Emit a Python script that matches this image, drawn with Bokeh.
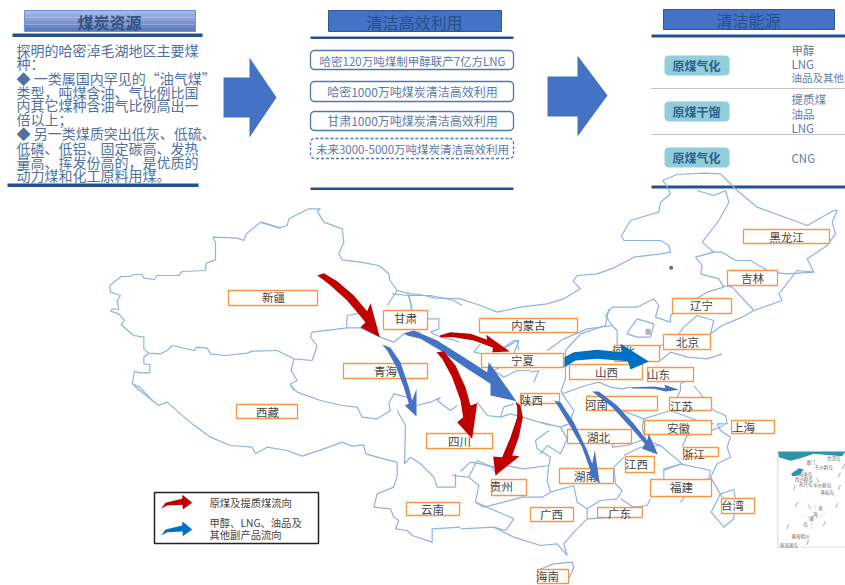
from bokeh.plotting import figure
from bokeh.embed import file_html
from bokeh.resources import INLINE
from bokeh.core.properties import value
import math

FONT = value("Noto Sans CJK SC")

province_labels = ["新疆","甘肃","青海","内蒙古","宁夏","辽宁","北京","吉林","黑龙江","河北","山西","山东","河南","江苏","安徽","上海","湖北","浙江","江西","湖南","福建","广东","广西","贵州","四川","陕西","云南","西藏","海南","台湾"]
province_boxes = [(228,290,317,305),(383,310,427,329),(343,363,427,378),(479,318,577,332),(481,353,563,367),(672,298,731,313),(663,334,710,349),(727,270,777,285),(743,229,829,243),(614,345,659,361),(569,364,642,379),(647,367,693,381),(586,396,657,410),(669,397,711,410),(644,420,711,434),(731,420,774,433),(567,429,631,443),(683,447,718,456),(625,456,654,472),(559,468,613,483),(650,479,711,496),(597,507,642,517),(530,507,573,521),(491,479,526,495),(426,433,492,448),(520,393,559,403),(406,502,459,515),(236,404,297,418),(537,569,568,583),(721,498,754,513)]
province_text = [(273,296),(405,317),(385,370),(528,324),(522,359),(701,304),(687,341),(752,277),(786,236),(623,350),(606,371),(658,373),(596,403),(681,405),(678,427),(743,426),(598,436),(693,453),(636,463),(585,475),(681,486),(619,512),(551,513),(501,485),(459,440),(531,399),(432,508),(267,411),(547,575),(732,504)]

resource_title = "煤炭资源"
resource_lines = ["探明的哈密淖毛湖地区主要煤","种：","◆ 一类属国内罕见的“油气煤”","类型，吨煤含油、气比例比国","内其它煤种含油气比例高出一","倍以上；","◆ 另一类煤质突出低灰、低硫、","低磷、低铝、固定碳高、发热","量高、挥发份高的，是优质的","动力煤和化工原料用煤。"]
use_title = "清洁高效利用"
use_items = ["哈密120万吨煤制甲醇联产7亿方LNG","哈密1000万吨煤炭清洁高效利用","甘肃1000万吨煤炭清洁高效利用","未来3000-5000万吨煤炭清洁高效利用"]
energy_title = "清洁能源"
energy_pills = ["原煤气化","原煤干馏","原煤气化"]
energy_products = ["甲醇","LNG","油品及其他","提质煤","油品","LNG","CNG"]
legend_labels = ["原煤及提质煤流向","甲醇、LNG、油品及","其他副产品流向"]

p = figure(width=845, height=585, x_range=(0,845), y_range=(585,0),
           output_backend="svg", toolbar_location=None, min_border=0)
p.axis.visible = False
p.grid.visible = False
p.outline_line_color = None
p.background_fill_color = "white"

def Z(x0, y0, pts):
    return [x0 + a/3 for a, _ in pts], [y0 + b/3 for _, b in pts]

def rrect(l, t, r, b, rad):
    xs, ys = [], []
    for cx, cy, a0 in [(r-rad,t+rad,-90),(r-rad,b-rad,0),(l+rad,b-rad,90),(l+rad,t+rad,180)]:
        for k in range(7):
            a = math.radians(a0 + k*15)
            xs.append(cx + rad*math.cos(a)); ys.append(cy + rad*math.sin(a))
    return xs, ys

def T(x, y, s, size, color, align="center", style="normal"):
    p.text([x],[y],text=[s],text_font=FONT,text_font_size=f"{size}px",text_color=color,
           text_align=align,text_baseline="middle",text_font_style=style)

DARK = "#24508c"
BLUE = "#4472c4"

# ---- top panels ----
strips = ["#a5b6e2","#98abdc","#8aa0d6","#7b93cf","#6c87c9","#5f7cc3"]
for i, c in enumerate(strips):
    p.quad(left=24,right=195,top=10+i*3.5,bottom=13.6+i*3.5,fill_color=c,line_color=None)
p.quad(left=24,right=195,top=10,bottom=31,fill_color=None,line_color="#6f94d8",line_width=1)
T(109,21,resource_title,16,"#33527f",style="bold")
for l,r,t,b in [(12,202,33,36.5),(7,198,183,186.5),(310,513,36,38.5),(310,513,187,189.5),(651,845,34,37),(651,845,185,188)]:
    p.quad(left=l,right=r,top=t,bottom=b,fill_color=DARK,line_color=None)
ly = [49,62,77,91,104,118,132,147,161,174]
for s,y in zip(resource_lines,ly):
    T(16,y,s,14,"#50719f",align="left")

p.patch([223,249,249,276,249,249,223],[77,77,57,97,137,117,117],fill_color=BLUE,line_color=None)
p.patch([547,577,577,607,577,577,547],[76,76,55,95,136,116,116],fill_color=BLUE,line_color=None)

p.quad(left=328,right=501,top=10,bottom=31,fill_color=BLUE,line_color="#2f5597",line_width=1)
T(414,21,use_title,16,"#26508c")
for i,(t,b) in enumerate([(50,69),(81,101),(111,130),(138,158)]):
    xs,ys = rrect(310,t,513,b,4)
    p.patch(xs,ys,fill_color="white",line_color="#4f78b0",line_width=1.3,line_dash="3 2" if i==3 else "solid")
for s,y,sz in zip(use_items,[60,91,120,148],[11.5,12,12,11.5]):
    T(412,y,s,sz,"#5b7aa8")

p.quad(left=663,right=834,top=9,bottom=29,fill_color=BLUE,line_color="#2f5597",line_width=1)
T(748,19,energy_title,16,"#26508c")
for y in [88,134]:
    p.line([651,845],[y,y],line_color="#888888",line_width=1,line_dash="1 1")
for s,(t,b) in zip(energy_pills,[(55,75),(101,121),(147,167)]):
    xs,ys = rrect(664,t,729,b,4)
    p.patch(xs,ys,fill_color="#92cddc",line_color=None)
    T(696,(t+b)/2,s,12,"#2f5f8f",style="bold")
for s,y in zip(energy_products,[49,63,77,98,113,127,157]):
    T(791,y,s,10.5 if len(s)>3 else 11.5,"#5f7ca6",align="left")

# ---- map lines ----
Z4=(120,190); Z5=(420,190); Z6=(120,385); Z7=(460,385); Z8=(80,200); Z9=(340,290); Z10=(540,290)
map_lines = [
 (Z8,[(600,82),(540,65),(498,100),(490,120),(470,113),(397,110),(405,125),(405,178),(377,188),(375,210),(305,213),(295,225),(230,225),(222,237),(190,233),(185,222),(160,222),(150,228),(122,228),(88,255),(90,275),(120,285),(110,300),(115,327),(95,325),(90,332),(115,340),(132,360),(122,373),(160,405),(190,410),(190,445),(205,458),(240,460),(260,450),(275,435),(340,450),(350,440),(380,443),(390,460),(435,465),(500,458),(515,452),(590,450)]),
 (Z8,[(205,458),(190,470),(190,490),(208,492),(208,517),(178,517),(162,512),(155,550),(178,560),(215,600)]),
 (Z4,[(420,95),(475,112),(500,105),(505,85),(565,55),(600,55),(590,62),(610,95),(665,115),(670,155),(655,190),(665,208),(720,215),(775,225),(805,250),(808,270),(830,300),(870,310),(900,312)]),
 (Z4,[(470,480),(520,505),(575,510),(590,465),(570,440),(575,425),(680,412),(720,412),(780,440),(820,455),(850,430),(880,425),(900,425)]),
 (Z4,[(520,505),(512,540),(530,570),(510,580),(520,600)]),
 (Z4,[(678,412),(680,375),(720,368)]),(Z4,[(830,300),(800,345)]),(Z4,[(862,310),(872,340),(872,360)]),
 (Z5,[(0,312),(40,322),(120,325),(180,345),(230,365),(300,350),(380,340),(430,325),(480,295),(458,272),(470,255),(530,250),(580,232),(640,200),(720,190),(750,185),(745,165),(720,150),(660,150),(610,150),(603,135),(630,90),(680,75),(715,65),(720,35),(750,10),(735,-20),(726,-30),(770,-48),(850,-52),(900,-50),(950,0),(1010,50),(1120,90),(1160,105),(1240,60),(1250,60),(1235,95),(1245,130),(1220,165),(1160,205),(1180,245),(1130,240),(1075,310),(1085,330),(1000,360),(965,380),(905,405),(870,430),(880,390),(830,375),(790,410),(760,450),(720,465),(710,510)]),
 (Z5,[(830,0),(880,15),(915,0),(925,35),(895,90),(845,155),(880,185),(825,200),(845,225),(840,250),(895,265),(910,290),(860,305),(810,335),(780,350),(750,375),(750,395),(705,380),(715,345),(700,325),(650,350),(575,350),(555,375),(575,405),(590,420),(590,470)]),
 (Z5,[(870,185),(905,185),(945,210),(990,210),(1050,245),(1100,250),(1180,245)]),
 (Z5,[(905,285),(935,290),(1000,360)]),
 (Z5,[(625,420),(650,385),(700,400),(690,440),(650,440),(620,430),(625,420)]),
 (Z5,[(905,490),(860,505),(800,500),(750,485),(720,510)]),
 (Z5,[(380,480),(430,445),(500,415),(575,405)]),
 (Z5,[(250,475),(290,450),(295,480)]),(Z5,[(330,545),(355,540),(340,575)]),
 (Z6,[(40,0),(70,25),(115,60),(140,50),(180,85),(215,115),(270,155),(330,180),(395,185),(405,205),(440,185),(500,195),(545,212),(610,190),(665,170),(695,182),(730,178),(735,205),(790,220),(830,230),(830,270),(820,305),(770,325),(760,365),(810,370),(820,395),(835,405),(825,430),(860,435),(875,450),(935,470),(935,430),(1020,425)]),
 (Z6,[(510,0),(530,20),(600,45),(665,60),(710,65),(725,95),(770,100),(810,75),(805,55),(820,25),(860,35)]),
 (Z6,[(830,75),(855,120),(852,235),(870,215),(900,235),(940,275),(950,305),(1005,305),(1005,265)]),
 (Z9,[(228,345),(270,335),(300,320),(290,330),(330,360),(350,345)]),
 (Z9,[(410,335),(440,375),(480,380),(490,350),(520,340)]),
 (Z9,[(480,380),(510,370),(545,380),(630,405)]),
 (Z9,[(335,555),(385,560),(410,510),(455,530),(470,555)]),
 (Z9,[(155,10),(205,15),(215,60)]),(Z9,[(205,15),(270,15),(340,30),(365,45)]),
 (Z9,[(260,85),(295,85),(295,115),(270,125),(300,140),(345,150),(355,155)]),
 (Z9,[(420,160),(400,185),(425,190)]),(Z9,[(470,185),(520,150),(535,150),(520,190),(470,235),(460,240),(490,260),(530,240),(570,240)]),
 (Z10,[(205,55),(195,105),(120,130),(75,180),(75,265),(62,300),(65,310),(135,285),(175,275),(210,290),(245,295),(270,290)]),
 (Z10,[(65,310),(100,360),(85,400),(60,410)]),
 (Z10,[(140,315),(205,330),(245,360),(310,385),(305,410),(315,445),(260,465),(215,470),(225,435),(155,445)]),
 (Z10,[(0,395),(60,410),(80,445),(60,490),(20,465),(0,490)]),
 (Z10,[(390,360),(420,300),(420,280),(450,265)]),
 (Z10,[(460,285),(520,360),(555,375),(560,400),(530,400),(540,420),(570,440),(560,470),(570,500),(530,520),(510,560),(545,620)]),
 (Z10,[(310,385),(390,360),(470,390),(520,400)]),
 (Z7,[(750,255),(745,280),(700,300),(660,350)]),
 (Z7,[(610,285),(610,250),(665,235),(600,180),(560,165)]),
 (Z7,[(490,210),(540,185),(600,180)]),
 (Z7,[(665,185),(680,150),(740,140),(790,120)]),
 (Z7,[(610,255),(660,235),(750,255)]),
 (Z7,[(570,340),(560,360),(520,365),(480,340)]),
 (Z7,[(520,365),(470,395),(380,400),(340,440),(310,475),(320,510),(290,475),(240,480),(160,455),(100,425),(0,430)]),
 (Z7,[(0,258),(30,230),(60,235),(100,245),(135,240),(190,250),(265,240),(260,285),(270,320),(340,300),(350,350),(380,370),(420,345),(470,340),(485,315),(465,295),(460,245),(490,215)]),
 (Z7,[(25,275),(55,300),(45,350),(70,365),(130,350),(185,335),(245,335),(270,320)]),
 (Z7,[(265,240),(270,215),(230,190),(225,165),(265,135)]),
 (Z7,[(380,370),(380,400)]),(Z7,[(100,425),(135,435),(160,400),(45,350)]),
 (Z7,[(780,325),(820,312),(825,340),(820,400),(790,425),(752,380),(780,325)]),
 (Z7,[(230,555),(280,535),(335,530),(340,545),(320,590)]),
]
for org,pts in map_lines:
    xs,ys = Z(org[0],org[1],pts)
    p.line(xs,ys,line_color="#8db2e4",line_width=1.2)
xs,ys = Z(Z5[0],Z5[1],[(752,232)])
p.scatter(xs,ys,size=4,fill_color=BLUE,line_color=None)
xs,ys = Z(Z5[0],Z5[1],[(675,415),(690,415),(692,433),(675,433)])
p.patch(xs,ys,fill_color="#b5b5b5",line_color=None)

# ---- province boxes ----
for (l,t,r,b) in province_boxes:
    p.quad(left=l,right=r,top=t,bottom=b,fill_color="white",line_color="#f79646",line_width=1.3)
for s,(x,y) in zip(province_labels,province_text):
    T(x,y,s,11.5,"#444444")

# ---- flows ----
RED="#c00000"; FLOW_BLUE="#4472c4"; DEEP="#0070c0"
arrows = [
 (Z4,RED,[(590,255),(610,248),(650,272),(700,315),(740,362),(750,338),(778,440),(720,410),(735,395),(680,330),(630,285),(600,262)]),
 (Z9,FLOW_BLUE,[(125,162),(150,172),(180,215),(205,290),(215,330),(228,295),(228,378),(193,345),(205,340),(190,290),(165,225),(140,180)]),
 (Z9,FLOW_BLUE,[(190,128),(220,120),(290,150),(370,200),(440,245),(445,215),(528,332),(450,315),(450,280),(380,235),(300,180),(240,145),(200,135)]),
 (Z9,RED,[(288,185),(310,182),(345,225),(375,290),(390,345),(410,338),(395,445),(350,395),(368,380),(360,330),(335,260),(305,205)]),
 (Z9,RED,[(297,135),(330,125),(390,130),(440,148),(437,133),(508,183),(455,185),(458,172),(400,150),(340,140),(300,140)]),
 (Z9,RED,[(525,333),(540,345),(547,380),(535,440),(515,495),(537,497),(465,555),(458,498),(485,500),(510,440),(530,380),(530,350)]),
 (Z10,DEEP,[(72,200),(100,185),(170,178),(245,185),(240,160),(325,213),(270,237),(262,212),(170,205),(105,210),(72,230)]),
 (Z10,FLOW_BLUE,[(270,290),(340,288),(375,293),(372,283),(415,298),(375,303),(340,295),(275,294)]),
 (Z10,FLOW_BLUE,[(42,330),(60,335),(100,395),(140,480),(155,520),(163,480),(178,580),(143,550),(150,540),(125,470),(85,400)]),
 (Z10,FLOW_BLUE,[(155,303),(175,303),(230,345),(280,400),(320,450),(325,430),(352,492),(305,475),(313,460),(270,410),(215,350)]),
]
for org,c,pts in arrows:
    xs,ys = Z(org[0],org[1],pts)
    p.patch(xs,ys,fill_color=c,line_color=None)

# ---- legend ----
p.quad(left=154,right=318,top=492,bottom=543,fill_color="white",line_color="#222222",line_width=1.5)
la = [(122,370),(135,352),(185,340),(186,328),(215,352),(187,372),(186,358),(140,360)]
for c,dy in [(RED,0),(DEEP,80)]:
    xs,ys = Z(Z6[0],Z6[1],[(a,b+dy) for a,b in la])
    p.patch(xs,ys,fill_color=c,line_color=None)
for s,y in zip(legend_labels,[502,522,534]):
    T(209,y,s,10.3,"#444444",align="left")

# ---- South China Sea inset ----
ix,iy = 770,445
p.quad(left=777,right=845,top=451,bottom=549,fill_color="white",line_color=None)
xs,ys = Z(ix,iy,[(22,18),(225,18),(215,32),(130,25),(90,38),(60,46),(25,35)])
p.patch(xs,ys,fill_color="#2e94a8",line_color=None)
xs,ys = Z(ix,iy,[(62,85),(85,68),(100,72),(85,90),(65,92)])
p.patch(xs,ys,fill_color="#2e94a8",line_color=None)
xs,ys = Z(ix,iy,[(22,305),(22,18)])
p.line(xs,ys,line_color="#d5d5d5",line_width=1)
xs,ys = Z(ix,iy,[(22,305),(225,305)])
p.line(xs,ys,line_color="#e0e0e0",line_width=1)
for a,b in [(70,125),(77,176),(50,243),(110,290),(160,234),(197,180),(205,125),(218,62),(205,88)]:
    xs,ys = Z(ix,iy,[(a-3,b+8),(a+3,b-8),(a+6,b-6),(a,b+9)])
    p.patch(xs,ys,fill_color="#b9b4dc",line_color=None)
for a,b in [(140,105),(115,185)]:
    xs,ys = Z(ix,iy,[(a-4,b-8),(a+4,b+8),(a+8,b+6),(a,b-9)])
    p.patch(xs,ys,fill_color="#a8d8e8",line_color=None)
xs,ys = Z(ix,iy,[(95,210),(130,222),(165,205)])
p.line(xs,ys,line_color="#f2b8c6",line_width=0.8,line_dash="2 1")
xs,ys = Z(ix,iy,[(135,180),(120,255)])
p.line(xs,ys,line_color="#f2b8c6",line_width=0.8,line_dash="2 1")
inset_names = ["澳门","台湾岛","东沙群岛","海南岛","西沙群岛","永兴岛","中沙群岛","黄岩岛","南","海","诸","岛","曾母暗沙","南海诸岛"]
inset_pos = [(120,48),(190,38),(160,65),(105,85),(100,100),(105,115),(155,118),(170,140),(150,188),(135,205),(122,218),(105,236),(90,272),(55,297)]
for s,(a,b) in zip(inset_names,inset_pos):
    T(ix+a/3,iy+b/3,s,4.5,"#666666")

open("out.html","w").write(file_html(p,INLINE))
